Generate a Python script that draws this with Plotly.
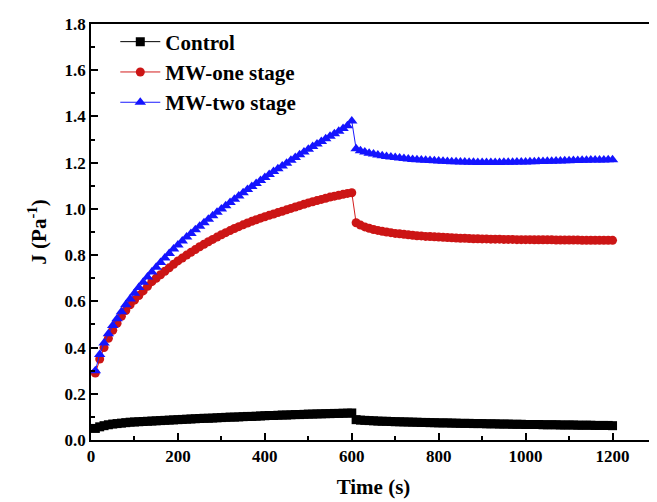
import plotly.graph_objects as go

# sampling times (s)
time_creep = list(range(10, 601, 10))
time_recovery = list(range(610, 1201, 10))
time_all = time_creep + time_recovery

control = [
    0.050, 0.057, 0.062, 0.066, 0.069, 0.071, 0.073, 0.075, 0.077, 0.078,
    0.079, 0.080, 0.081, 0.082, 0.083, 0.084, 0.085, 0.086, 0.087, 0.088,
    0.089, 0.090, 0.091, 0.092, 0.093, 0.094, 0.094, 0.095, 0.096, 0.097,
    0.098, 0.099, 0.099, 0.100, 0.101, 0.102, 0.102, 0.103, 0.104, 0.105,
    0.106, 0.106, 0.107, 0.108, 0.108, 0.109, 0.110, 0.110, 0.111, 0.112,
    0.112, 0.113, 0.113, 0.114, 0.114, 0.115, 0.115, 0.116, 0.116, 0.117,
    0.088, 0.086, 0.085, 0.084, 0.083, 0.082, 0.081, 0.081, 0.080, 0.079,
    0.079, 0.078, 0.078, 0.077, 0.077, 0.076, 0.076, 0.075, 0.075, 0.074,
    0.074, 0.074, 0.073, 0.073, 0.072, 0.072, 0.072, 0.071, 0.071, 0.071,
    0.070, 0.070, 0.070, 0.069, 0.069, 0.069, 0.068, 0.068, 0.068, 0.067,
    0.067, 0.067, 0.067, 0.066, 0.066, 0.066, 0.066, 0.065, 0.065, 0.065,
    0.065, 0.064, 0.064, 0.064, 0.064, 0.063, 0.063, 0.063, 0.063, 0.062,
]

mw_one = [
    0.290, 0.350, 0.400, 0.440, 0.475, 0.505, 0.535, 0.560, 0.585, 0.605,
    0.625, 0.645, 0.665, 0.685, 0.700, 0.715, 0.730, 0.745, 0.760, 0.775,
    0.787, 0.800, 0.812, 0.824, 0.836, 0.847, 0.858, 0.868, 0.878, 0.888,
    0.897, 0.906, 0.915, 0.923, 0.931, 0.939, 0.946, 0.953, 0.960, 0.966,
    0.972, 0.978, 0.984, 0.990, 0.996, 1.002, 1.008, 1.014, 1.020, 1.026,
    1.031, 1.036, 1.041, 1.046, 1.051, 1.055, 1.059, 1.063, 1.067, 1.070,
    0.940, 0.930, 0.922, 0.916, 0.911, 0.907, 0.903, 0.900, 0.897, 0.894,
    0.892, 0.890, 0.888, 0.886, 0.884, 0.883, 0.881, 0.880, 0.879, 0.878,
    0.877, 0.876, 0.875, 0.874, 0.873, 0.873, 0.872, 0.871, 0.871, 0.870,
    0.870, 0.869, 0.869, 0.869, 0.868, 0.868, 0.868, 0.867, 0.867, 0.867,
    0.867, 0.866, 0.866, 0.866, 0.866, 0.866, 0.865, 0.865, 0.865, 0.865,
    0.865, 0.865, 0.864, 0.864, 0.864, 0.864, 0.864, 0.864, 0.864, 0.864,
]

mw_two = [
    0.300, 0.370, 0.420, 0.460, 0.495, 0.525, 0.555, 0.585, 0.610, 0.635,
    0.660, 0.683, 0.705, 0.727, 0.748, 0.768, 0.788, 0.807, 0.826, 0.844,
    0.861, 0.878, 0.894, 0.910, 0.925, 0.940, 0.955, 0.970, 0.985, 1.000,
    1.014, 1.028, 1.042, 1.056, 1.070, 1.084, 1.097, 1.110, 1.123, 1.136,
    1.149, 1.162, 1.174, 1.186, 1.198, 1.210, 1.222, 1.234, 1.246, 1.258,
    1.270, 1.281, 1.292, 1.303, 1.314, 1.325, 1.336, 1.348, 1.360, 1.380,
    1.260, 1.252, 1.246, 1.241, 1.237, 1.233, 1.230, 1.227, 1.224, 1.222,
    1.220, 1.218, 1.216, 1.214, 1.213, 1.211, 1.210, 1.209, 1.208, 1.207,
    1.206, 1.205, 1.204, 1.204, 1.203, 1.203, 1.202, 1.202, 1.201, 1.201,
    1.201, 1.201, 1.201, 1.201, 1.202, 1.202, 1.202, 1.203, 1.203, 1.203,
    1.204, 1.204, 1.205, 1.205, 1.206, 1.206, 1.207, 1.207, 1.208, 1.208,
    1.209, 1.209, 1.210, 1.210, 1.211, 1.211, 1.212, 1.212, 1.213, 1.213,
]

series_names = ["Control", "MW-one stage", "MW-two stage"]
x_ticks = [0, 200, 400, 600, 800, 1000, 1200]
y_ticks = [0.0, 0.2, 0.4, 0.6, 0.8, 1.0, 1.2, 1.4, 1.6, 1.8]

fig = go.Figure()
fig.add_trace(go.Scatter(
    x=time_all, y=control, name=series_names[0], mode="lines+markers",
    line=dict(color="black", width=1),
    marker=dict(symbol="square", size=9, color="black"),
))
fig.add_trace(go.Scatter(
    x=time_all, y=mw_one, name=series_names[1], mode="lines+markers",
    line=dict(color="#d41c1c", width=1),
    marker=dict(symbol="circle", size=9, color="#cc1515"),
))
fig.add_trace(go.Scatter(
    x=time_all, y=mw_two, name=series_names[2], mode="lines+markers",
    line=dict(color="#1a1aff", width=1),
    marker=dict(symbol="triangle-up", size=10, color="#1414ff"),
))

axis_common = dict(
    showline=True, linecolor="black", linewidth=1.5, mirror=True,
    ticks="inside", ticklen=7, tickwidth=1.5, tickcolor="black",
    showgrid=False, zeroline=False,
    tickfont=dict(family="Liberation Serif", size=17, color="black", weight="bold"),
)

fig.update_xaxes(
    range=[0, 1300], tickvals=x_ticks,
    minor=dict(ticks="inside", ticklen=4, tickwidth=1.5, tickcolor="black", dtick=100, tick0=0),
    title=dict(text="Time (s)", standoff=14,
               font=dict(family="Liberation Serif", size=21, color="black", weight="bold")),
    **axis_common,
)
fig.update_yaxes(
    range=[0, 1.8], tickvals=y_ticks, tickformat=".1f",
    minor=dict(ticks="inside", ticklen=4, tickwidth=1.5, tickcolor="black", dtick=0.1, tick0=0),
    title=dict(text="J (Pa<sup>-1</sup>)", standoff=12,
               font=dict(family="Liberation Serif", size=21, color="black", weight="bold")),
    **axis_common,
)

fig.update_layout(
    width=657, height=502,
    margin=dict(l=83, r=7, t=14, b=70),
    paper_bgcolor="white", plot_bgcolor="white",
    font=dict(family="Liberation Serif", color="black", weight="bold"),
    legend=dict(
        x=0.043, y=1.006, xanchor="left", yanchor="top",
        bgcolor="rgba(0,0,0,0)",
        font=dict(family="Liberation Serif", size=21, color="black", weight="bold"),
        tracegroupgap=0, itemwidth=40,
    ),
)

fig.write_html("out.html")
